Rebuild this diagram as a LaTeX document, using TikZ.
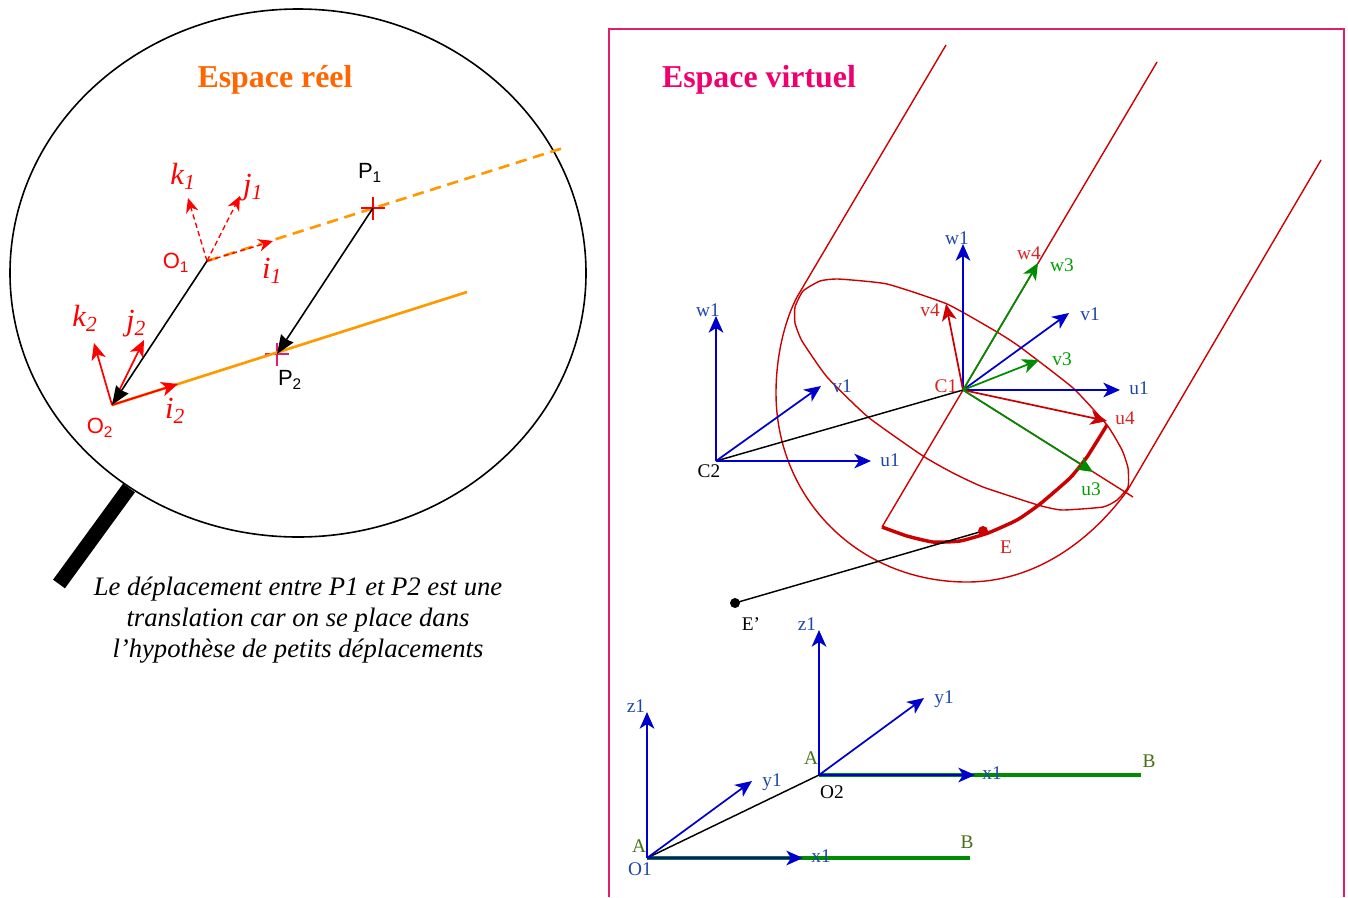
\documentclass[tikz,border=0pt]{standalone}
\usepackage{fontspec}
\setmainfont{Liberation Serif}
\setsansfont{Liberation Sans}
\usetikzlibrary{arrows.meta}
\definecolor{RealOrange}{RGB}{255,102,0}
\definecolor{LineOrange}{RGB}{255,153,0}
\definecolor{VirtPink}{RGB}{240,0,110}
\definecolor{FrameRose}{RGB}{225,30,110}
\definecolor{AxisRed}{RGB}{255,0,0}
\definecolor{CylRed}{RGB}{204,0,0}
\definecolor{LabelRed}{RGB}{215,35,35}
\definecolor{AxisBlue}{RGB}{0,0,204}
\definecolor{LabelBlue}{RGB}{30,70,170}
\definecolor{AxisGreen}{RGB}{0,140,0}
\definecolor{LabelGreen}{RGB}{0,160,0}
\definecolor{PointOlive}{RGB}{70,110,20}

\begin{document}
\begin{tikzpicture}[
x=0.75pt,
y=-0.75pt,
every node/.style={inner sep=0pt,outer sep=0pt,font=\fontsize{14.5}{16}\selectfont},
titletext/.style={font=\fontsize{23.9}{26}\selectfont\bfseries},
captiontext/.style={font=\fontsize{20}{23.2}\selectfont\itshape,align=center},
veclabel/.style={font=\fontsize{23}{26}\selectfont\itshape,text=AxisRed},
sanslabel/.style={font=\fontsize{16.5}{18}\selectfont\sffamily},
bluelabel/.style={text=LabelBlue},
redlabel/.style={text=LabelRed},
greenlabel/.style={text=LabelGreen},
olivelabel/.style={text=PointOlive},
cylinder/.style={draw=CylRed,line width=1.05pt},
thinblack/.style={draw=black,line width=1.1pt},
blackvec/.style={-{Stealth[length=14pt,width=11pt,inset=1pt]},draw=black,line width=1.2pt},
redvec/.style={-{Stealth[length=12.5pt,width=11pt,inset=3.5pt]},draw=AxisRed,line width=1.3pt},
reddash/.style={-{Stealth[length=11pt,width=9.5pt,inset=3.5pt]},draw=AxisRed,line width=1pt,dash pattern=on 4pt off 2.5pt},
bluevec/.style={-{Stealth[length=12.5pt,width=11pt,inset=3.5pt]},draw=AxisBlue,line width=1.3pt},
greenvec/.style={-{Stealth[length=12.5pt,width=11pt,inset=3.5pt]},draw=AxisGreen,line width=1.3pt},
cylvec/.style={-{Stealth[length=12.5pt,width=11pt,inset=3.5pt]},draw=CylRed,line width=1.3pt},
seg/.style={draw=AxisGreen,line width=2.8pt}
]

\path[use as bounding box] (0,0) rectangle (1348,897);

\draw[black,line width=1.2pt] (298,273) ellipse [x radius=288,y radius=264];
\draw[black,line width=11pt] (129,488) -- (59,584);

\node[titletext,text=RealOrange] (reeltitle) at (275,80) {Espace réel};
\node[titletext,text=VirtPink] (virttitle) at (759,80) {Espace virtuel};

\node[captiontext] (caption) at (298,620) {Le déplacement entre P1 et P2 est une\\translation car on se place dans\\l’hypothèse de petits déplacements};

\coordinate (o1real) at (207,261);
\coordinate (o2real) at (112,405);
\coordinate (p1real) at (373,208);
\coordinate (p2real) at (277,354);
\coordinate (dashend) at (563,148);
\coordinate (solidend) at (467,292);
\coordinate (k1tip) at (188,198);
\coordinate (j1tip) at (240,196);
\coordinate (i1tip) at (273,241);
\coordinate (k2tip) at (94,343);
\coordinate (j2tip) at (144,340);
\coordinate (i2tip) at (178,384);

\draw[draw=LineOrange,line width=2pt,dash pattern=on 8.5pt off 5pt] (o1real) -- (dashend);

\draw[AxisRed,line width=2pt] (361,208) -- (385,208);
\draw[AxisRed,line width=2pt] (373,197) -- (373,220);
\draw[FrameRose,line width=2pt] (265,354) -- (289,354);
\draw[FrameRose,line width=2pt] (277,343) -- (277,366);
\draw[draw=LineOrange,line width=2pt] (o2real) -- (solidend);

\draw[reddash] (o1real) -- (k1tip);
\draw[reddash] (o1real) -- (j1tip);
\draw[reddash] (o1real) -- (i1tip);
\draw[redvec] (o2real) -- (k2tip);
\draw[redvec] (o2real) -- (j2tip);
\draw[redvec] (o2real) -- (i2tip);

\draw[blackvec] (o1real) -- (o2real);
\draw[blackvec] (p1real) -- (p2real);

\node[veclabel] (k1label) at (183,176) {k\textsubscript{1}};
\node[veclabel] (j1label) at (253,188) {j\textsubscript{1}};
\node[veclabel] (i1label) at (272,271) {i\textsubscript{1}};
\node[veclabel] (k2label) at (85,318) {k\textsubscript{2}};
\node[veclabel] (j2label) at (136,324) {j\textsubscript{2}};
\node[veclabel] (i2label) at (175,411) {i\textsubscript{2}};
\node[sanslabel,text=AxisRed] (o1label) at (176,263) {O\textsubscript{1}};
\node[sanslabel,text=AxisRed] (o2label) at (100,428) {O\textsubscript{2}};
\node[sanslabel] (p1label) at (370,173) {P\textsubscript{1}};
\node[sanslabel] (p2label) at (290,380) {P\textsubscript{2}};

\draw[draw=FrameRose,line width=1.2pt] (609,897) -- (609,29) -- (1344,29) -- (1344,897);

\coordinate (c1) at (963,390);
\coordinate (c2) at (716,461);
\coordinate (eptA) at (983,531);
\coordinate (eprime) at (735,603);
\coordinate (cylA) at (946,45);
\coordinate (cylAend) at (797,297);
\coordinate (cylB) at (1157,62);
\coordinate (cylBend) at (882,527);
\coordinate (cylC) at (1321,160);
\coordinate (cylCend) at (1127,491);
\coordinate (radend) at (1133,497);

\draw[cylinder] (cylA) -- (cylAend);
\draw[cylinder] (cylB) -- (cylBend);
\draw[cylinder] (cylC) -- (cylCend);
\draw[cylinder] (c1) -- (radend);

\draw[cylinder] (cylAend) .. controls (785,320) and (776,355) .. (776,393) .. controls (776,498) and (858,582) .. (967,582) .. controls (1040,582) and (1095,535) .. (cylCend);

\draw[cylinder] plot[smooth cycle,tension=0.3] coordinates {(795,307) (803,291) (820,281) (838,279) (887,284) (947,304) (997,332) (1020,347) (1073,388) (1107,425) (1122,450) (1128,468) (1128,487) (1117,500) (1103,507) (1062,510) (1038,505) (983,487) (953,473) (923,456) (868,417) (827,377) (802,341) (795,323)};

\draw[draw=CylRed,line width=2.6pt,line join=round] plot[smooth,tension=0.3] coordinates {(882,527) (907,536) (933,542) (960,541) (988,533) (1017,520) (1040,504) (1070,478) (1087,457) (1107,425)};

\draw[thinblack] (c2) -- (c1);
\draw[thinblack] (eprime) -- (eptA);
\fill[CylRed] (eptA) circle [radius=5];
\fill[black] (eprime) circle [radius=5];

\coordinate (w2tip) at (716,316);
\coordinate (v2tip) at (821,386);
\coordinate (u2tip) at (871,461);
\coordinate (w1tip) at (963,244);
\coordinate (v1tip) at (1069,313);
\coordinate (u1tip) at (1120,390);
\coordinate (w3tip) at (1038,263);
\coordinate (v3tip) at (1039,360);
\coordinate (u3tip) at (1093,472);
\coordinate (v4tip) at (946,304);
\coordinate (u4tip) at (1107,421);

\draw[bluevec] (c2) -- (w2tip);
\draw[bluevec] (c2) -- (v2tip);
\draw[bluevec] (c2) -- (u2tip);
\draw[bluevec] (c1) -- (w1tip);
\draw[bluevec] (c1) -- (v1tip);
\draw[bluevec] (c1) -- (u1tip);
\draw[cylvec] (c1) -- (v4tip);
\draw[cylvec] (c1) -- (u4tip);
\draw[greenvec] (c1) -- (w3tip);
\draw[greenvec] (c1) -- (v3tip);
\draw[greenvec] (c1) -- (u3tip);

\node[bluelabel] (w2label) at (708,310) {w1};
\node[bluelabel] (v2label) at (842,386) {v1};
\node[bluelabel] (u2label) at (890,460) {u1};
\node (c2label) at (709,471) {C2};
\node[redlabel] (c1label) at (946,386) {C1};
\node[bluelabel] (w1label) at (957,238) {w1};
\node[redlabel] (w4label) at (1029,253) {w4};
\node[greenlabel] (w3label) at (1062,265) {w3};
\node[bluelabel] (v1label) at (1090,314) {v1};
\node[redlabel] (v4label) at (930,310) {v4};
\node[greenlabel] (v3label) at (1062,359) {v3};
\node[bluelabel] (u1label) at (1139,388) {u1};
\node[redlabel] (u4label) at (1125,418) {u4};
\node[greenlabel] (u3label) at (1091,489) {u3};
\node[redlabel] (elabel) at (1006,547) {E};
\node (eplabel) at (751,624) {E’};

\coordinate (o1) at (647,858);
\coordinate (o2) at (819,775);
\coordinate (b1) at (970,858);
\coordinate (b2) at (1141,775);
\coordinate (z1tip) at (647,712);
\coordinate (y1tip) at (752,781);
\coordinate (x1tip) at (803,858);
\coordinate (z2tip) at (819,630);
\coordinate (y2tip) at (924,698);
\coordinate (x2tip) at (975,775);

\draw[seg] (o1) -- (b1);
\draw[seg] (o2) -- (b2);
\draw[thinblack] (o1) -- (o2);
\draw[bluevec] (o1) -- (z1tip);
\draw[bluevec] (o1) -- (y1tip);
\draw[bluevec] (o1) -- (x1tip);
\draw[bluevec] (o2) -- (z2tip);
\draw[bluevec] (o2) -- (y2tip);
\draw[bluevec] (o2) -- (x2tip);

\node[bluelabel] (z1label) at (636,706) {z1};
\node[bluelabel] (y1label) at (772,782) {y1};
\node[bluelabel] (x1label) at (821,856) {x1};
\node[olivelabel] (a1label) at (639,846) {A};
\node[bluelabel] (o1lower) at (640,869) {O1};
\node[olivelabel] (b1label) at (967,842) {B};
\node[bluelabel] (z2label) at (807,624) {z1};
\node[bluelabel] (y2label) at (944,699) {y1};
\node[bluelabel] (x2label) at (992,773) {x1};
\node[olivelabel] (a2label) at (811,758) {A};
\node (o2lower) at (832,792) {O2};
\node[olivelabel] (b2label) at (1149,761) {B};

\end{tikzpicture}
\end{document}
